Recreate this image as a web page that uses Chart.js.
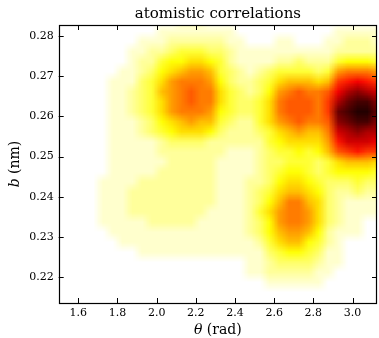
<!DOCTYPE html>
<html>
<head>
<meta charset="utf-8">
<script src="https://cdn.jsdelivr.net/npm/chart.js@4.4.0/dist/chart.umd.min.js"></script>
<style>
  html, body { margin: 0; padding: 0; background: #fff; }
</style>
</head>
<body>
<canvas id="chart" width="379" height="338"></canvas>
<script>
// 2d histogram of bond length b against angle theta
// bins: theta starts at 1.5 rad, step 0.05; b rows start at 0.285 nm (top row), step 0.0025
var thetaStart = 1.5;
var thetaStep = 0.05;
var bTop = 0.285;
var bStep = 0.0025;
var maxCount = 20;

// counts per bin, top row first, one char per bin: 0-9 then a-j for 10-19
var counts = [
    "000000000000111000000000000000000",
    "000000000011111111000000000011111",
    "000000001112222221100011000112221",
    "000000011223444332111111111122222",
    "000000012245566542111122322245554",
    "000000112356788743212344443489998",
    "0000011134689998532234677767bcdcb",
    "0000011234789a9964323589a99adfgfe",
    "0000011234689a996433469aaa9bfhiig",
    "00000112346899985433469aaa9bhijjh",
    "000001112356787743224689a99aghiig",
    "0000011123456665322234678779efgff",
    "0000011111233332222224566668ceeed",
    "0000011111222222211123445457abcbb",
    "000001111112222211112334443467776",
    "000001111122222211112345543455554",
    "000011112222222211122356654333433",
    "000011122222222211123467765322322",
    "000011122222222211123579976321111",
    "000011122222222111124689986321111",
    "000011111222221111123589986321100",
    "000001111111111111123578875211100",
    "000000111111111111112467754210000",
    "000000001111111111111345543110000",
    "000000000000000000011233332110000",
    "000000000000000000011222221100000",
    "000000000000000000000111111000000",
    "000000000000000000000000000000000",
    "000000000000000000000000000000000"
];

var xTicks = [1.6, 1.8, 2.0, 2.2, 2.4, 2.6, 2.8, 3.0];
var yTicks = [0.22, 0.23, 0.24, 0.25, 0.26, 0.27, 0.28];

var serif = "'DejaVu Serif', serif";

// matplotlib hot_r
function hotR(t) {
    var s = 1 - t;
    var r = Math.min(1, s / 0.365);
    var g = Math.max(0, Math.min(1, (s - 0.365) / 0.381));
    var b = Math.max(0, Math.min(1, (s - 0.746) / 0.254));
    return [r * 255, g * 255, b * 255];
}

var heatmap = {
    id: 'heatmap',
    beforeDatasetsDraw: function (chart) {
        var ctx = chart.ctx, area = chart.chartArea;
        var xs = chart.scales.x, ys = chart.scales.y;
        var rows = counts.length, cols = counts[0].length;

        var off = document.createElement('canvas');
        off.width = cols;
        off.height = rows;
        var octx = off.getContext('2d');
        var img = octx.createImageData(cols, rows);
        for (var j = 0; j < rows; j++) {
            for (var i = 0; i < cols; i++) {
                var v = parseInt(counts[j][i], 36);
                var c = hotR(v / maxCount);
                var k = (j * cols + i) * 4;
                img.data[k] = c[0];
                img.data[k + 1] = c[1];
                img.data[k + 2] = c[2];
                img.data[k + 3] = 255;
            }
        }
        octx.putImageData(img, 0, 0);

        var x0 = xs.getPixelForValue(thetaStart);
        var x1 = xs.getPixelForValue(thetaStart + cols * thetaStep);
        var y0 = ys.getPixelForValue(bTop);
        var y1 = ys.getPixelForValue(bTop - rows * bStep);

        ctx.save();
        ctx.beginPath();
        ctx.rect(area.left, area.top, area.right - area.left, area.bottom - area.top);
        ctx.clip();
        ctx.imageSmoothingEnabled = true;
        ctx.drawImage(off, x0, y0, x1 - x0, y1 - y0);
        ctx.restore();
    }
};

function drawMixed(ctx, parts, cx, cy) {
    var total = 0;
    parts.forEach(function (p) {
        ctx.font = p[1];
        total += ctx.measureText(p[0]).width;
    });
    var x = cx - total / 2;
    ctx.textAlign = 'left';
    ctx.textBaseline = 'middle';
    parts.forEach(function (p) {
        ctx.font = p[1];
        ctx.fillText(p[0], x, cy);
        x += ctx.measureText(p[0]).width;
    });
}

// box, inward ticks on all sides, titles
var frame = {
    id: 'frame',
    afterDraw: function (chart) {
        var ctx = chart.ctx, a = chart.chartArea;
        var xs = chart.scales.x, ys = chart.scales.y;
        var len = 5;
        ctx.save();
        ctx.strokeStyle = '#000';
        ctx.lineWidth = 1;
        ctx.beginPath();
        xTicks.forEach(function (v) {
            var px = Math.round(xs.getPixelForValue(v)) + 0.5;
            ctx.moveTo(px, a.bottom);
            ctx.lineTo(px, a.bottom - len);
            ctx.moveTo(px, a.top);
            ctx.lineTo(px, a.top + len);
        });
        yTicks.forEach(function (v) {
            var py = Math.round(ys.getPixelForValue(v)) + 0.5;
            ctx.moveTo(a.left, py);
            ctx.lineTo(a.left + len, py);
            ctx.moveTo(a.right, py);
            ctx.lineTo(a.right - len, py);
        });
        ctx.stroke();
        ctx.lineWidth = 1.2;
        ctx.strokeRect(Math.round(a.left) + 0.5, Math.round(a.top) + 0.5,
            Math.round(a.right - a.left) - 1, Math.round(a.bottom - a.top));

        ctx.fillStyle = '#000';
        var cx = (a.left + a.right) / 2;
        ctx.font = '15px ' + serif;
        ctx.textAlign = 'center';
        ctx.textBaseline = 'middle';
        ctx.fillText('atomistic correlations', cx, 14);

        drawMixed(ctx, [['θ', 'italic 14px ' + serif], [' (rad)', '14px ' + serif]], cx, 330);

        ctx.translate(15, (a.top + a.bottom) / 2);
        ctx.rotate(-Math.PI / 2);
        drawMixed(ctx, [['b', 'italic 14px ' + serif], [' (nm)', '14px ' + serif]], 0, 0);
        ctx.restore();
    }
};

new Chart(document.getElementById('chart').getContext('2d'), {
    type: 'scatter',
    data: { datasets: [{ data: [] }] },
    options: {
        responsive: false,
        animation: false,
        layout: { padding: { top: 25, right: 2, left: 0, bottom: 0 } },
        plugins: {
            legend: { display: false },
            tooltip: { enabled: false },
            title: { display: false }
        },
        scales: {
            x: {
                type: 'linear',
                min: 1.5,
                max: 3.125,
                grid: { display: false, drawTicks: false },
                border: { display: false },
                afterBuildTicks: function (s) { s.ticks = xTicks.map(function (v) { return { value: v }; }); },
                afterFit: function (s) { s.height = 35; },
                ticks: {
                    autoSkip: false,
                    maxRotation: 0,
                    padding: 4,
                    color: '#000',
                    font: { family: serif, size: 11 },
                    callback: function (v) { return v.toFixed(1); }
                }
            },
            y: {
                type: 'linear',
                min: 0.2135,
                max: 0.2828,
                grid: { display: false, drawTicks: false },
                border: { display: false },
                afterBuildTicks: function (s) { s.ticks = yTicks.map(function (v) { return { value: v }; }); },
                afterFit: function (s) { s.width = 58.7; },
                ticks: {
                    autoSkip: false,
                    padding: 5,
                    color: '#000',
                    font: { family: serif, size: 11 },
                    callback: function (v) { return v.toFixed(2); }
                }
            }
        }
    },
    plugins: [heatmap, frame]
});
</script>
</body>
</html>
